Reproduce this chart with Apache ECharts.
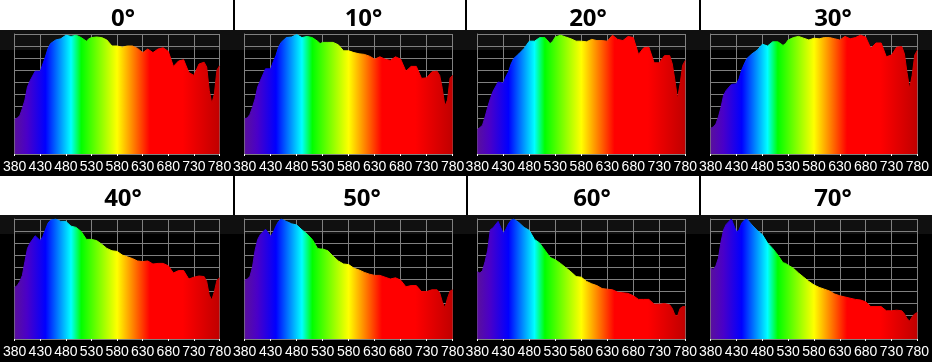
<!DOCTYPE html>
<html>
<head>
<meta charset="utf-8">
<style>html,body{margin:0;padding:0;background:#fff}#c{width:932px;height:362px}</style>
<script src="https://cdn.jsdelivr.net/npm/echarts@6/dist/echarts.min.js"></script>
</head>
<body>
<div id="c"></div>
<script>
const wavelengths = [380,385,390,395,400,405,410,420,430,435,440,445,450,460,470,480,490,500,510,520,525,530,540,550,560,570,580,590,600,610,620,630,640,650,660,670,680,690,700,710,720,730,740,750,755,760,765,770,775,780];
const xTicks = [380,430,480,530,580,630,680,730,780];
const panelTitles = ['0°','10°','20°','30°','40°','50°','60°','70°'];
const deg0 = [29,30,32,38,45,56,61,69,69,75,81,88,92,95,96,99,98,99,97,94,96,97,97.5,97,95,90,90,89,90,90,88,84.5,87.5,84.5,87.5,88.5,85.5,73,77.5,78.5,68,65.5,75,76.5,72.5,53,42,50,70,73.5];
const deg10 = [29.5,30,33,39,46,56,61,71,71,77,82,89,93,97,97.5,99.5,97,98,97,94,92,93,93,93,91,86,86,84.5,83.5,83,81.5,79,81,79,78,81,79,69,73,73,63,63.5,68.5,69,65.5,54.5,40,45,63.5,65.5];
const deg20 = [20.5,22,24,31,39,46,52,60,59,64.5,68.5,75,79.5,83.5,88,94,94,97,97,92,94,97.5,99,97.5,96,94,94,93.5,95.5,94.5,94.5,94,99,95.5,94.5,98,97,83,88.5,89,76,76,82,82,75,61.5,46,58.5,74,78];
const deg30 = [21.5,22.5,25,31,39,49,53,58,58.5,63,70,75,79.5,83.5,86.5,91.5,90,93.5,93.5,90.5,92,95,97,98,96.5,95,96.5,96,97,97,96,95,98,96,97,99,97.5,88,92.5,92.5,81,82.5,89,89.5,83.5,68,54.5,65.5,82.5,86.5];
const deg40 = [43,44.5,48,53,64.5,75.5,80,86,82,85.5,91,96.5,99,100,98,98,94,93,89.5,83,83,83,82,79,75.5,73.5,73,70,68.5,67,65,64.5,65,62.5,63,63,61,55,57,57,50,51.5,52.5,52,48,36.5,32.5,39.5,49,51];
const deg50 = [49,50,52,60,74,83,87,91.5,85.5,89,94,98,100,98,96,95,91,87.5,83,75.5,75,75,73.5,69,65,62.5,62,59,57.5,55.5,54,53,53,51.5,50,51,49,43.5,44.5,44.5,39.5,39.5,41,41,38.5,31,26,34,40,41];
const deg60 = [56,55,57,64.5,74,91,92.5,98,88,91.5,96,99,100,97,93,90.5,83,80,74,68,67,66,63,59.5,56,52,51.5,48,46,44.5,42,41.5,41,39,38.5,38,36,33,33,33,29,29,29.5,28.5,25.5,20,19,25.5,27,27];
const deg70 = [59,58,61,67.5,81,91,95.5,100,89,91,96.5,99,100,95,90.5,87,80,75.5,70,63.5,63,61.5,59,55,51.5,48,45,43,41.5,40,37.5,36,35,34,33,32.5,31,27,27,27,23.5,23.5,24,23.5,21,17,15,18.5,21,22];
const seriesValues = [deg0,deg10,deg20,deg30,deg40,deg50,deg60,deg70];

const plotLeft = [11.5,244.7,477.3,710.7];
const plotWidth = 208;
const rowTop = [34,219];
const plotHeight = 120;
const titleX = [118,358.5,583,828,118,357,587,828];
const titleTop = [-1,179];

const spectrum = {
  type:'linear',x:0,y:0,x2:1,y2:0,
  colorStops:[
    {offset:0,color:'#5a109c'},
    {offset:0.06,color:'#4a00c8'},
    {offset:0.15,color:'#0000ff'},
    {offset:0.275,color:'#00ffff'},
    {offset:0.325,color:'#00ff00'},
    {offset:0.5,color:'#ffff00'},
    {offset:0.66,color:'#ff0000'},
    {offset:0.82,color:'#ff0000'},
    {offset:1,color:'#c00000'}
  ]
};

const grids=[],xAxes=[],yAxes=[],series=[],titles=[];
seriesValues.forEach((vals,i)=>{
  const col=i%4,row=i<4?0:1;
  grids.push({left:plotLeft[col],top:rowTop[row],width:plotWidth,height:plotHeight,containLabel:false});
  xAxes.push({
    type:'value',gridIndex:i,min:380,max:780,
    axisLine:{show:true,onZero:false,lineStyle:{color:'#808080',width:1}},
    axisTick:{show:true,length:2,customValues:xTicks,lineStyle:{color:'#fff',width:1}},
    axisLabel:{show:true,customValues:xTicks,color:'#fff',fontFamily:'Liberation Sans',fontSize:14,margin:6,hideOverlap:false,showMinLabel:true,showMaxLabel:true},
    splitLine:{show:true,lineStyle:{color:'#808080',width:1}}
  });
  yAxes.push({
    type:'value',gridIndex:i,min:0,max:100,interval:10,
    axisLine:{show:true,onZero:false,lineStyle:{color:'#808080',width:1}},
    axisTick:{show:false},axisLabel:{show:false},
    splitLine:{show:true,lineStyle:{color:'#808080',width:1}}
  });
  series.push({
    type:'line',xAxisIndex:i,yAxisIndex:i,symbol:'none',smooth:false,
    data:wavelengths.map((w,k)=>[w,vals[k]]),
    lineStyle:{width:1,color:spectrum},
    areaStyle:{color:spectrum,opacity:1},
    z:5,silent:true
  });
  titles.push({
    text:panelTitles[i],left:titleX[i],top:titleTop[row],textAlign:'center',
    textStyle:{color:'#000',fontFamily:'Open Sans',fontWeight:'bold',fontSize:24,lineHeight:30}
  });
});

const rect=(x,y,w,h,c)=>({type:'rect',silent:true,z:-10,shape:{x,y,width:w,height:h},style:{fill:c}});
const graphic=[
  rect(0,30,932,146,'#000'),
  rect(0,30,932,20,'#101010'),
  rect(0,215,932,147,'#000'),
  rect(0,215,932,19,'#101010'),
  rect(233,0,2,30,'#000'),
  rect(465,0,2,30,'#000'),
  rect(699,0,2,30,'#000'),
  rect(233,176,2,39,'#000'),
  rect(466,176,2,39,'#000'),
  rect(699,176,2,39,'#000')
];

const chart=echarts.init(document.getElementById('c'),null,{renderer:'canvas'});
chart.setOption({
  animation:false,backgroundColor:'#fff',
  title:titles,grid:grids,xAxis:xAxes,yAxis:yAxes,series,graphic,
  tooltip:{show:false},legend:{show:false}
});
</script>
</body>
</html>
